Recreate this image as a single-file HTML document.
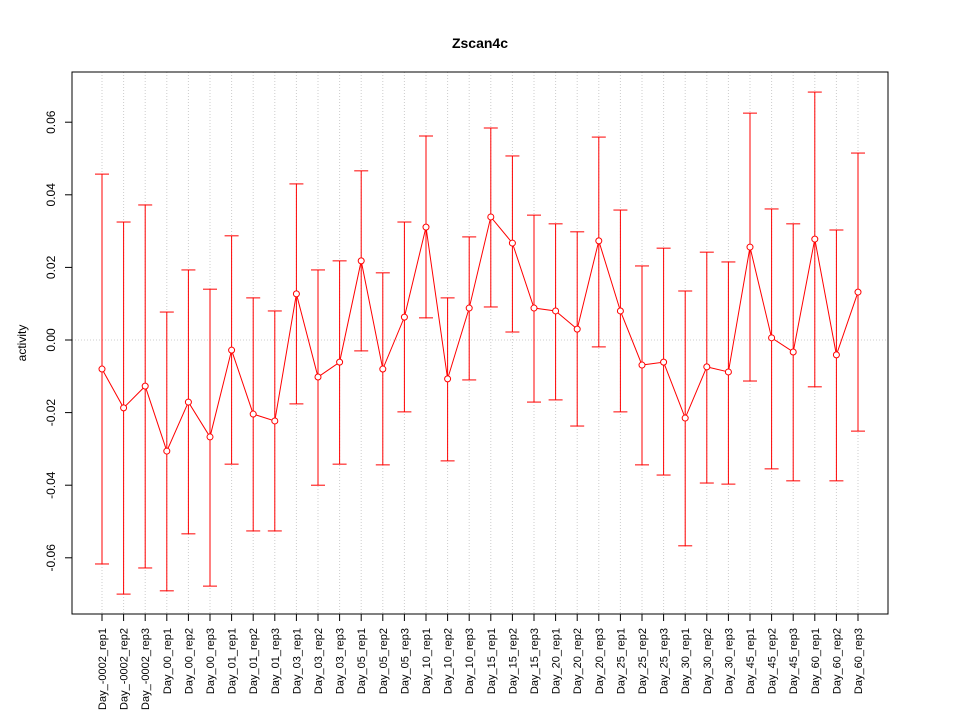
<!DOCTYPE html>
<html><head><meta charset="utf-8"><style>
body{margin:0;background:#fff;}
svg{display:block;font-family:"Liberation Sans",sans-serif;}
</style></head><body>
<svg id="chart" width="960" height="720">
<text x="480" y="48" text-anchor="middle" font-size="14" font-weight="bold">Zscan4c</text>
<text transform="translate(26,343) rotate(-90)" text-anchor="middle" font-size="12">activity</text>
<g id="grid"></g><g id="yaxis"></g><g id="xaxis"></g><g id="series"></g>
<rect x="72" y="72" width="816" height="542" fill="none" stroke="#000"/>
</svg>
<script>
const categories=["Day_-0002_rep1","Day_-0002_rep2","Day_-0002_rep3","Day_00_rep1","Day_00_rep2","Day_00_rep3","Day_01_rep1","Day_01_rep2","Day_01_rep3","Day_03_rep1","Day_03_rep2","Day_03_rep3","Day_05_rep1","Day_05_rep2","Day_05_rep3","Day_10_rep1","Day_10_rep2","Day_10_rep3","Day_15_rep1","Day_15_rep2","Day_15_rep3","Day_20_rep1","Day_20_rep2","Day_20_rep3","Day_25_rep1","Day_25_rep2","Day_25_rep3","Day_30_rep1","Day_30_rep2","Day_30_rep3","Day_45_rep1","Day_45_rep2","Day_45_rep3","Day_60_rep1","Day_60_rep2","Day_60_rep3"];
const values=[-0.008,-0.0187,-0.0127,-0.0306,-0.0171,-0.0267,-0.0028,-0.0204,-0.0223,0.0127,-0.0102,-0.0061,0.0218,-0.008,0.0063,0.0311,-0.0107,0.0088,0.0339,0.0267,0.0088,0.008,0.003,0.0273,0.008,-0.0069,-0.0061,-0.0215,-0.0074,-0.0088,0.0256,0.0006,-0.0033,0.0278,-0.0041,0.0132];
const upper=[0.0457,0.0325,0.0372,0.0077,0.0193,0.014,0.0287,0.0116,0.008,0.043,0.0193,0.0218,0.0466,0.0185,0.0325,0.0562,0.0116,0.0284,0.0584,0.0507,0.0344,0.032,0.0298,0.0559,0.0358,0.0204,0.0253,0.0135,0.0242,0.0215,0.0625,0.0361,0.032,0.0683,0.0303,0.0515];
const lower=[-0.0617,-0.070,-0.0628,-0.0691,-0.0534,-0.0678,-0.0342,-0.0526,-0.0526,-0.0176,-0.04,-0.0342,-0.003,-0.0344,-0.0198,0.0061,-0.0333,-0.011,0.0091,0.0022,-0.0171,-0.0165,-0.0237,-0.0019,-0.0198,-0.0344,-0.0372,-0.0567,-0.0394,-0.0397,-0.0113,-0.0355,-0.0388,-0.0129,-0.0388,-0.0251];
const yTicks=[-0.06,-0.04,-0.02,0,0.02,0.04,0.06];
const yTickLabels=["-0.06","-0.04","-0.02","0.00","0.02","0.04","0.06"];
const NS="http://www.w3.org/2000/svg";
const y=v=>340-v*3630;
const x=i=>102+i*21.6;
function mk(tag,attrs,parent,name){const e=document.createElementNS(NS,tag);for(const k in attrs)e.setAttribute(k,attrs[k]);


document.getElementById(parent).appendChild(e);return e;}
categories.forEach((c,i)=>{
 mk('line',{x1:x(i),x2:x(i),y1:72,y2:614,stroke:'#ccc','stroke-dasharray':'1,2'},'grid','grid-line-x');
 mk('line',{x1:x(i),x2:x(i),y1:614,y2:621,stroke:'#000'},'xaxis','x-tick');
 const t=mk('text',{transform:`translate(${x(i)+4},628) rotate(-90)`,'text-anchor':'end','font-size':'11'},'xaxis','x-tick-label');t.textContent=c;
});
mk('line',{x1:72,x2:888,y1:y(0),y2:y(0),stroke:'#ccc','stroke-dasharray':'1,2'},'grid','zero-line');
mk('line',{x1:72,x2:72,y1:y(-0.06),y2:y(0.06),stroke:'#000'},'yaxis','y-axis-line');
mk('line',{x1:x(0),x2:x(categories.length-1),y1:614,y2:614,stroke:'#000'},'xaxis','x-axis-line');
yTicks.forEach((v,i)=>{
 mk('line',{x1:65,x2:72,y1:y(v),y2:y(v),stroke:'#000'},'yaxis','y-tick');
 const t=mk('text',{transform:`translate(55,${y(v)}) rotate(-90)`,'text-anchor':'middle','font-size':'12'},'yaxis','y-tick-label');t.textContent=yTickLabels[i];
});
values.forEach((v,i)=>{
 mk('line',{x1:x(i),x2:x(i),y1:y(upper[i]),y2:y(lower[i]),stroke:'red'},'series','error-bar');
 mk('line',{x1:x(i)-7,x2:x(i)+7,y1:y(upper[i]),y2:y(upper[i]),stroke:'red'},'series','error-cap-upper');
 mk('line',{x1:x(i)-7,x2:x(i)+7,y1:y(lower[i]),y2:y(lower[i]),stroke:'red'},'series','error-cap-lower');
});
mk('polyline',{points:values.map((v,i)=>x(i)+','+y(v)).join(' '),fill:'none',stroke:'red'},'series','activity-line');
values.forEach((v,i)=>mk('circle',{cx:x(i),cy:y(v),r:3,fill:'#fff',stroke:'red'},'series','activity-point'));
</script>
</body></html>
